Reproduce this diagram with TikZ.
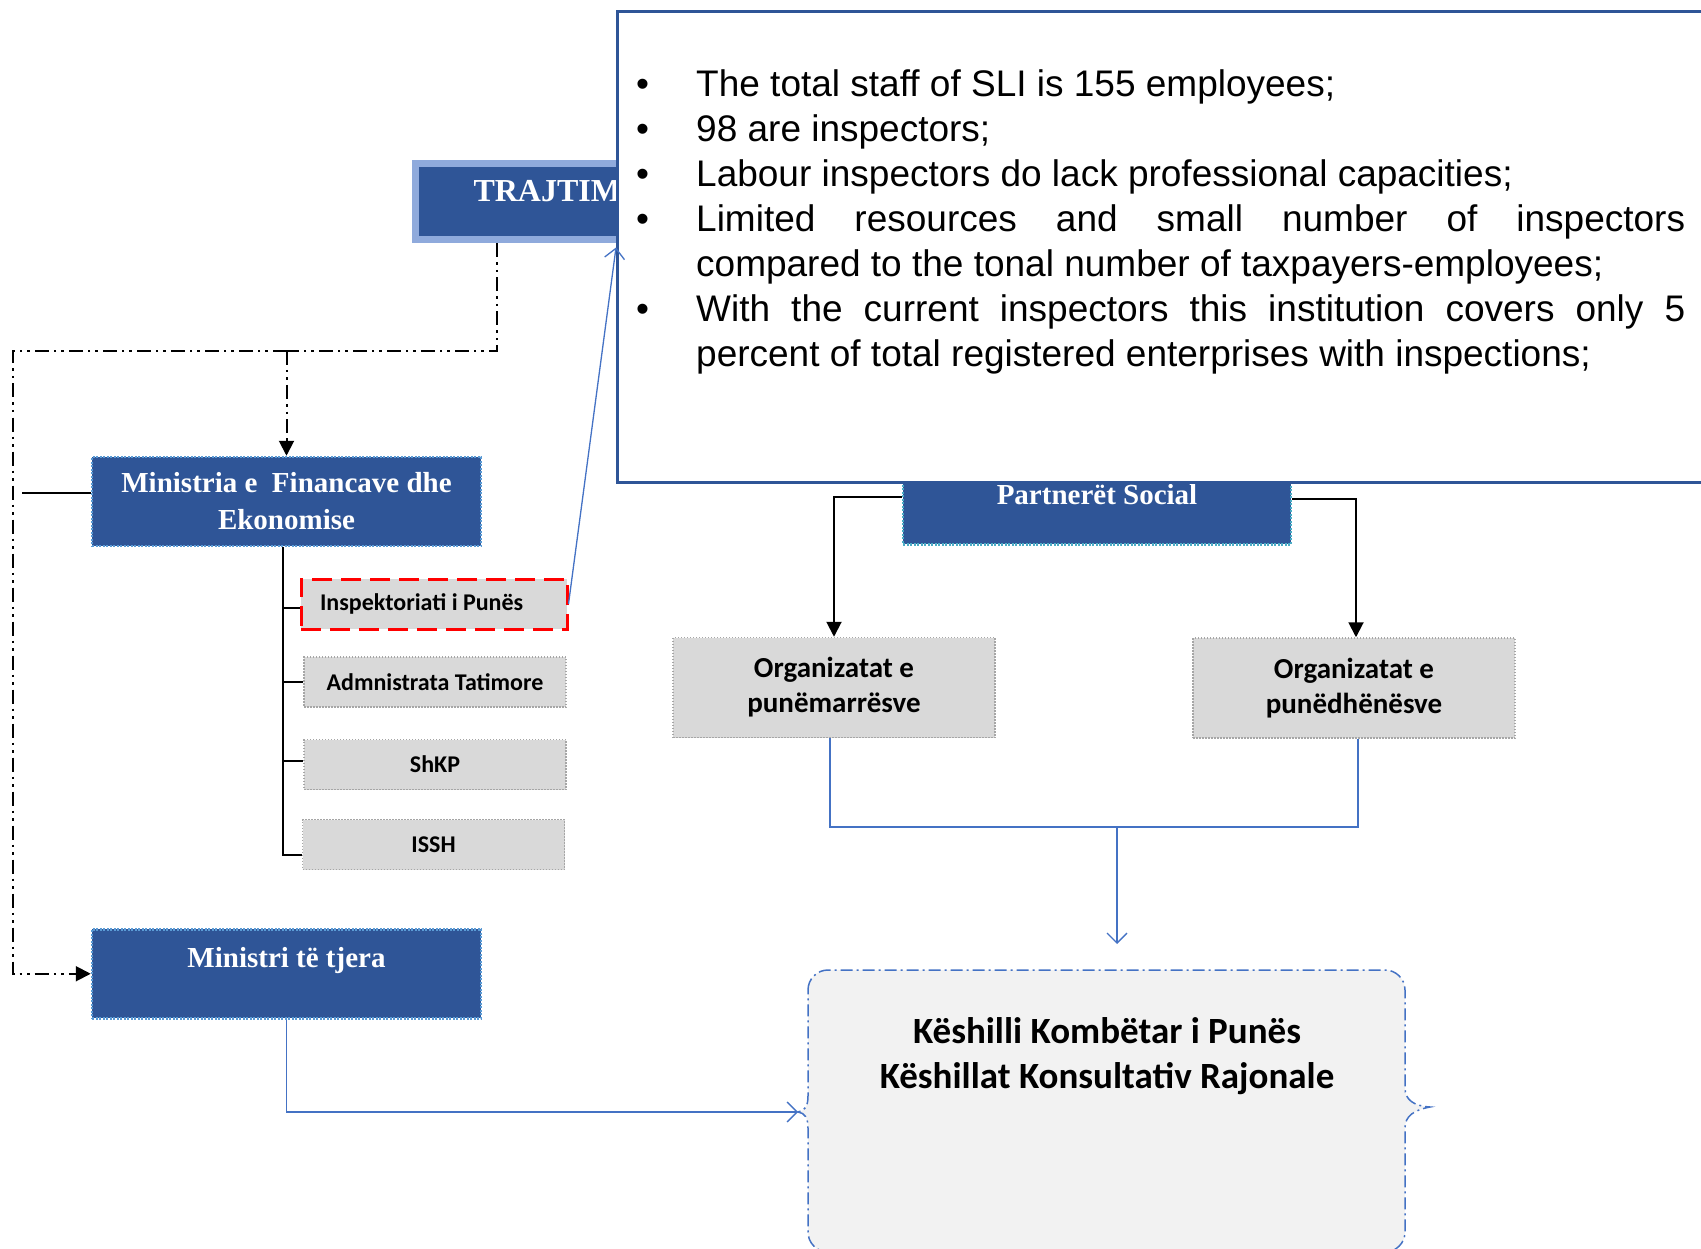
\documentclass[tikz,border=0pt]{standalone}
\usepackage{fontspec}
\setmainfont{Liberation Serif}
\newfontfamily\arialfont{Liberation Sans}
\newfontfamily\calibrifont{Carlito}
\usetikzlibrary{arrows.meta}
\definecolor{dkblue}{HTML}{2F5597}
\definecolor{frameblue}{HTML}{8FAADC}
\definecolor{dotblue}{HTML}{5B9BD5}
\definecolor{dotcyan}{HTML}{4BACC6}
\definecolor{linkblue}{HTML}{4472C4}
\definecolor{boxgrey}{HTML}{D9D9D9}
\definecolor{keshgrey}{HTML}{F2F2F2}
\newcommand\bpoint{\par\noindent\hangindent=60pt\hangafter=1\makebox[60pt][l]{\textbullet}}
\tikzset{
  solidhead/.tip={Triangle[length=15pt,width=15pt]},
  barbhead/.tip={Straight Barb[length=10pt,width=20pt]},
  bluebox/.style={draw=dotblue, fill=dkblue, line width=2.5pt, dash pattern=on 2pt off 1.5pt,
    text=white, font=\fontsize{29}{37}\selectfont\bfseries, align=center,
    minimum width=389pt, inner sep=0pt},
  greybox/.style={draw=gray!70, fill=boxgrey, line width=1.5pt, dash pattern=on 1.5pt off 1.5pt,
    font=\calibrifont\bfseries\fontsize{24}{30}\selectfont, minimum width=262pt,
    minimum height=50pt, inner sep=0pt},
  orgbox/.style={greybox, font=\calibrifont\bfseries\fontsize{29}{35}\selectfont, align=center,
    minimum width=322pt, minimum height=100pt},
  elbow/.style={black, line width=2pt},
  link/.style={linkblue, line width=1.3pt},
  ddline/.style={black, line width=2pt, dash pattern=on 14pt off 5pt on 2.5pt off 5pt on 2.5pt off 5pt},
  keshline/.style={draw=linkblue, fill=keshgrey, line width=1.5pt, dash pattern=on 12pt off 4pt on 2pt off 4pt}
}
\begin{document}
\begin{tikzpicture}[x=1pt,y=-1pt]
\useasboundingbox (0,0) rectangle (1701,1249);
\clip (0,0) rectangle (1701,1249);
% council box with its two braces
\draw[keshline] (808,990) .. controls (808,979) and (817,970) .. (828,970) -- (1385,970)
  .. controls (1396,970) and (1405,979) .. (1405,990) -- (1405,1088)
  .. controls (1405,1100) and (1414,1106) .. (1430,1107)
  .. controls (1414,1110) and (1405,1116) .. (1405,1128) -- (1405,1232)
  .. controls (1405,1243) and (1396,1252) .. (1385,1252) -- (828,1252)
  .. controls (817,1252) and (808,1243) .. (808,1232) -- (808,1128)
  .. controls (808,1118) and (805,1113) .. (798,1112)
  .. controls (805,1111) and (808,1106) .. (808,1096) -- cycle;
\node[font=\calibrifont\bfseries\fontsize{37}{45}\selectfont, align=center] (kesh) at (1107,1056)
  {Këshilli Kombëtar i Punës\\Këshillat Konsultativ Rajonale};
\coordinate (keshL) at (798,1112);
\coordinate (keshT) at (1117,944);
\coordinate (jn) at (1117,827);
% left column
\node[bluebox, minimum height=89pt] (mfe) at (286.5,501.5) {Ministria e\ \ Financave dhe\\Ekonomise};
\node[bluebox, anchor=north, text height=38pt, text depth=51pt] (mte) at (286.5,928) {Ministri të tjera};
\node[greybox, draw=red, line width=3pt, dash pattern=on 20pt off 9pt, minimum width=266pt,
  text width=228pt, align=flush left] (insp) at (434,604) {Inspektoriati i Punës};
\node[greybox] (adm) at (435,682) {Admnistrata Tatimore};
\node[greybox] (shkp) at (435,764.5) {ShKP};
\node[greybox] (issh) at (433.5,844.5) {ISSH};
\foreach \n/\dy in {insp/-4,adm/0,shkp/4,issh/-10} {
\draw[elbow] ([xshift=-4pt]mfe.south) |- ([yshift=\dy pt]\n.west);
}
\coordinate (stub) at (22,493);
\draw[elbow] (stub) -- (stub -| mfe.west);
% TRAJTIM box, partly hidden
\node[draw=frameblue, fill=dkblue, line width=7pt, anchor=north west, minimum width=300pt,
  minimum height=76pt, inner xsep=58.5pt, text width=183pt, align=left, text height=21pt,
  text depth=22pt, text=white, font=\fontsize{32}{36}\selectfont\bfseries] (trj) at (411.5,160.5) {TRAJTIM};
\coordinate (fork) at (286.5,351);
\coordinate (corner) at (13,351);
\draw[ddline] ([xshift=85.5pt]trj.south west) |- (fork);
\draw[ddline,-solidhead] (fork) -- (mfe.north);
\draw[ddline,-solidhead] (fork) -- (corner) |- (mte.west);
\draw[link,-barbhead] (mte.south) |- (keshL);
% social partners
\node[bluebox, draw=dotcyan, minimum width=388pt, anchor=north, text height=83pt, text depth=40pt] (ps) at (1097,420) {Partnerët Social};
\node[orgbox] (orgA) at (834,687.5) {Organizatat e\\punëmarrësve};
\node[orgbox] (orgB) at (1354,688) {Organizatat e\\punëdhënësve};
\draw[elbow,-solidhead] ([yshift=-14.5pt]ps.west) -| (orgA.north);
\draw[elbow,-solidhead] ([yshift=-16.5pt]ps.east) -| ([xshift=2pt]orgB.north);
\draw[link] ([xshift=-4pt]orgA.south) |- (jn -| orgB.south) -- ++(4,0) -- ([xshift=4pt]orgB.south);
\draw[link,-barbhead] (jn) -- (keshT);
% callout
\node[draw=dkblue, line width=3pt, fill=white, anchor=north west, minimum width=1150pt,
  minimum height=470pt, inner sep=0pt] (notes) at (616,10.5) {};
\node[anchor=north west, text width=1049pt, align=justify, inner sep=0pt,
  font=\arialfont\fontsize{37}{45}\selectfont] (facts) at (636,51)
  {\hyphenpenalty=10000\exhyphenpenalty=10000
  \bpoint The total staff of SLI is 155 employees;
  \bpoint 98 are inspectors;
  \bpoint Labour inspectors do lack professional capacities;
  \bpoint Limited resources and small number of inspectors\linebreak compared to the tonal number of taxpayers-employees;
  \bpoint With the current inspectors this institution covers only 5\linebreak percent of total registered enterprises with inspections;\par};
\draw[link,-barbhead] (insp.east) -- ([yshift=-237pt]notes.north west);
\end{tikzpicture}
\end{document}
